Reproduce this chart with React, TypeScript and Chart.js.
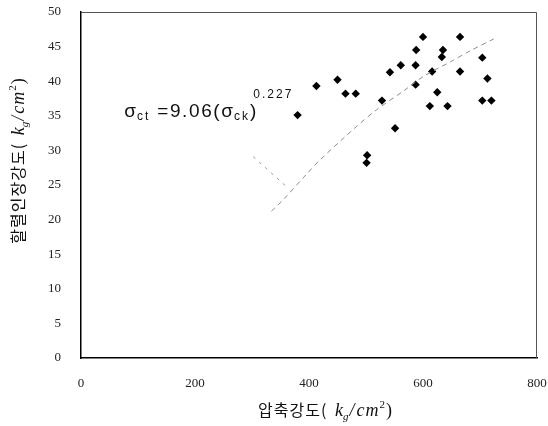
import React, { useEffect, useRef } from "react";
import { Chart, registerables } from "chart.js";

Chart.register(...registerables);

// ---- data ----
const xTickValues = [0, 200, 400, 600, 800];
const yTickValues = [0, 5, 10, 15, 20, 25, 30, 35, 40, 45, 50];

const compStrength = [
  380, 413, 450, 464, 482, 502, 501, 528, 542, 551, 561, 587, 588, 587,
  600, 612, 616, 625, 635, 633, 643, 665, 665, 704, 713, 704, 720,
];
const tensileStrength = [
  35.1, 39.3, 40.2, 38.2, 38.2, 29.3, 28.2, 37.2, 41.3, 33.2, 42.3, 42.3, 44.5, 39.5,
  46.4, 36.4, 41.4, 38.4, 44.5, 43.5, 36.4, 46.4, 41.4, 43.4, 40.4, 37.2, 37.2,
];

const fitX = [334, 355, 395, 419, 484, 519, 566, 601, 648, 683, 724];
const fitY = [21.2, 22.9, 26.5, 28.6, 33.5, 35.9, 38.6, 40.7, 42.8, 44.4, 46.1];

const leaderX = [302, 360];
const leaderY = [29.1, 24.8];

const eqAnchor = { x: 76, y: 34.8 };

const xTitleKo = "압축강도( ";
const yTitleKo = "할렬인장강도( ";

type Run = { t: string; f: string; dy: number; ls?: string; dx?: number };

function drawRuns(ctx: CanvasRenderingContext2D, runs: Run[], x: number, y: number, center: boolean) {
  const widths = runs.map((r) => {
    ctx.font = r.f;
    (ctx as any).letterSpacing = r.ls || "0px";
    return ctx.measureText(r.t).width + (r.dx || 0);
  });
  const total = widths.reduce((a, b) => a + b, 0);
  let cx = center ? x - total / 2 : x;
  runs.forEach((r, i) => {
    ctx.font = r.f;
    (ctx as any).letterSpacing = r.ls || "0px";
    ctx.fillText(r.t, cx + (r.dx || 0), y + r.dy);
    cx += widths[i];
  });
  (ctx as any).letterSpacing = "0px";
}

const unitRuns = (ko: string): Run[] => [
  { t: ko, f: "16px 'Noto Sans CJK KR'", dy: 0, ls: "1px" },
  { t: "k", f: "italic 18px 'Liberation Serif'", dy: 0, dx: 3 },
  { t: "g", f: "italic 11px 'Liberation Serif'", dy: 4, ls: "1px" },
  { t: "/", f: "italic 18px 'Liberation Serif'", dy: 0, ls: "2px" },
  { t: "cm", f: "italic 18px 'Liberation Serif'", dy: 0, ls: "1px" },
  { t: "2", f: "11px 'Liberation Serif'", dy: -8, ls: "1px" },
  { t: ")", f: "18px 'Liberation Serif'", dy: 0 },
];

const annotationPlugin = {
  id: "annotations",
  afterDraw(chart: any) {
    const ctx: CanvasRenderingContext2D = chart.ctx;
    const { left, right, top, bottom } = chart.chartArea;
    ctx.save();
    // frame top/right
    ctx.strokeStyle = "#555";
    ctx.lineWidth = 1;
    ctx.beginPath();
    ctx.moveTo(left, top + 0.5);
    ctx.lineTo(right - 0.5, top + 0.5);
    ctx.lineTo(right - 0.5, bottom);
    ctx.stroke();

    ctx.fillStyle = "#111";
    ctx.textBaseline = "alphabetic";
    ctx.textAlign = "left";

    // equation
    const xs = chart.scales.x;
    const ys = chart.scales.y;
    const ex = xs.getPixelForValue(eqAnchor.x);
    const ey = ys.getPixelForValue(eqAnchor.y);
    const big = "19px 'Liberation Sans'";
    const small = "12px 'Liberation Sans'";
    drawRuns(
      ctx,
      [
        { t: "σ", f: big, dy: 0, ls: "1px" },
        { t: "ct", f: small, dy: 3, ls: "2px" },
        { t: " =9.06(", f: big, dy: 0, ls: "1.6px" },
        { t: "σ", f: big, dy: 0, ls: "1px" },
        { t: "ck", f: small, dy: 3, ls: "2px" },
        { t: ")", f: big, dy: 0 },
        { t: "0.227", f: "12px 'Liberation Sans'", dy: -19, ls: "2px", dx: -3 },
      ],
      ex,
      ey,
      false
    );

    // x title
    drawRuns(ctx, unitRuns(xTitleKo), 325, 416, true);

    // y title
    ctx.translate(24, 161);
    ctx.rotate(-Math.PI / 2);
    drawRuns(ctx, unitRuns(yTitleKo), 0, 0, true);
    ctx.restore();
  },
};

export default function App() {
  const canvasRef = useRef<HTMLCanvasElement>(null);

  useEffect(() => {
    if (!canvasRef.current) return;
    const chart = new Chart(canvasRef.current, {
      type: "scatter",
      data: {
        datasets: [
          {
            type: "line",
            label: "fit",
            data: fitX.map((x, i) => ({ x, y: fitY[i] })),
            borderColor: "#8c8c8c",
            borderWidth: 1,
            borderDash: [5, 4],
            pointRadius: 0,
            fill: false,
            tension: 0.3,
          },
          {
            type: "line",
            label: "leader",
            data: leaderX.map((x, i) => ({ x, y: leaderY[i] })),
            borderColor: "#9a9a9a",
            borderWidth: 1,
            borderDash: [3, 5],
            pointRadius: 0,
            fill: false,
          },
          {
            label: "data",
            data: compStrength.map((x, i) => ({ x, y: tensileStrength[i] })),
            pointStyle: "rectRot",
            pointRadius: 4.2,
            backgroundColor: "#000",
            borderColor: "#000",
            borderWidth: 0,
          },
        ],
      },
      options: {
        responsive: false,
        animation: false,
        layout: { padding: { left: 0, right: 11, top: 12, bottom: 0 } },
        plugins: {
          legend: { display: false },
          tooltip: { enabled: false },
        },
        scales: {
          x: {
            type: "linear",
            min: 0,
            max: 800,
            afterFit: (s: any) => {
              s.height = 68;
              s.paddingLeft = 0;
              s.paddingRight = 0;
            },
            afterBuildTicks: (s: any) => {
              s.ticks = xTickValues.map((v) => ({ value: v }));
            },
            grid: { display: true, drawOnChartArea: false, drawTicks: false },
            border: { display: true, color: "#000", width: 1.5 },
            ticks: {
              padding: 18,
              color: "#222",
              font: { family: "'Liberation Serif'", size: 13 },
            },
          },
          y: {
            type: "linear",
            min: 0,
            max: 50,
            afterFit: (s: any) => {
              s.width = 81;
              s.paddingTop = 0;
              s.paddingBottom = 0;
            },
            afterBuildTicks: (s: any) => {
              s.ticks = yTickValues.map((v) => ({ value: v }));
            },
            grid: { display: true, drawOnChartArea: false, drawTicks: false },
            border: { display: true, color: "#000", width: 1.5 },
            ticks: {
              padding: 20,
              color: "#222",
              font: { family: "'Liberation Serif'", size: 13 },
            },
          },
        },
      },
      plugins: [annotationPlugin],
    });
    return () => chart.destroy();
  }, []);

  return (
    <div style={{ position: "fixed", left: 0, top: 0, width: 548, height: 426, background: "#fff" }}>
      <canvas ref={canvasRef} width={548} height={426} />
    </div>
  );
}
